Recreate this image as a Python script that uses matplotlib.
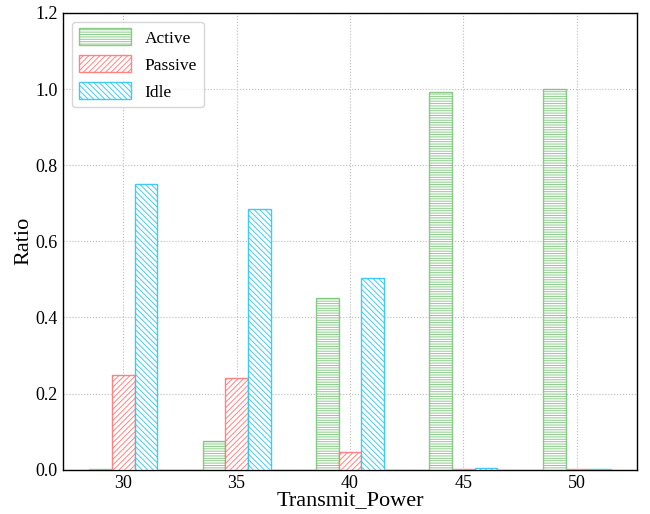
import matplotlib
matplotlib.use("Agg")
import matplotlib.pyplot as plt
import numpy as np

powers = ["30", "35", "40", "45", "50"]
active = [0.002, 0.075, 0.45, 0.993, 1.0]
passive = [0.25, 0.24, 0.048, 0.003, 0.002]
idle = [0.75, 0.685, 0.503, 0.006, 0.002]

plt.rcParams['font.family'] = ['Liberation Serif', 'DejaVu Serif']
plt.rcParams['hatch.linewidth'] = 0.7

fig = plt.figure(figsize=(6.5, 5.14), dpi=100)
ax = fig.add_axes([0.097, 0.086, 0.883, 0.889])

x = np.arange(len(powers))
w = 0.2
ax.bar(x - w, active, w, facecolor='white', edgecolor='#5cb85c', alpha=0.7, hatch='-------', label='Active', zorder=3)
ax.bar(x, passive, w, facecolor='white', edgecolor='#ff7070', alpha=0.85, hatch='//////', label='Passive', zorder=3)
ax.bar(x + w, idle, w, facecolor='white', edgecolor='#22c4f0', alpha=0.85, hatch='\\\\\\\\\\\\', label='Idle', zorder=3)

ax.set_xticks(x)
ax.set_xticklabels(powers)
ax.set_ylim(0, 1.2)
ax.set_yticks(np.arange(0, 1.21, 0.2))
ax.tick_params(labelsize=13, length=0, pad=4)
ax.grid(True, linestyle=':', color='#bbbbbb', linewidth=0.8, zorder=0)
ax.set_axisbelow(True)
ax.set_xlabel('Transmit_Power', fontsize=16, labelpad=-1)
ax.set_ylabel('Ratio', fontsize=16, labelpad=1)
ax.legend(loc='upper left', fontsize=12.5, handlelength=3, handleheight=1.1,
          borderaxespad=0.5, labelspacing=0.5)
for s in ax.spines.values():
    s.set_linewidth(1.0)

fig.savefig('out.png', dpi=100)
